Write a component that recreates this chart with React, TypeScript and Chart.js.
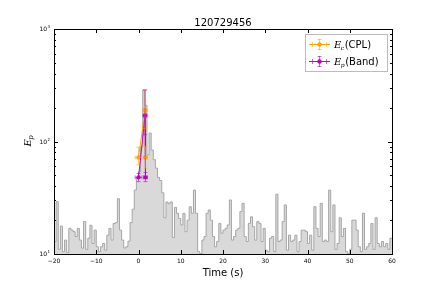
import React, { useEffect, useRef } from "react";
import { Chart, registerables } from "chart.js";

Chart.register(...registerables);

// ---- data ----
const title = "120729456";
const binStart = -20;
const binWidth = 0.5;
const histCounts = [
  12.9, 29.2, 11, 17.7, 10.5, 13.3, 10.3, 16.9, 16.3, 15.8,
  14.3, 16.9, 13.3, 11.3, 19.4, 11, 13.8, 18, 12.4, 16.3,
  11.6, 10.5, 11.6, 12.4, 10.8, 14.7, 16.9, 13.3, 18.7, 19,
  31, 16.3, 13.3, 11.3, 11.6, 13, 19, 25, 37, 47,
  54, 90, 287, 210, 76, 119, 84, 69, 58, 48,
  45, 35, 21, 29, 28, 29, 14, 26, 23, 20.7,
  18.1, 23, 15.8, 20, 26.3, 23, 37, 23, 10.5, 10.1,
  13.3, 14.3, 23, 24.6, 20, 14.3, 11.6, 12.9, 18.7, 15.3,
  16.3, 16.9, 18.1, 30.2, 13.3, 14.3, 16.3, 16.9, 23.8, 28.2,
  14.3, 12.9, 18.7, 21.4, 17.5, 13.3, 19.4, 18.7, 12.9, 16.9,
  10.8, 10.5, 13.8, 14.3, 10.5, 34, 12.9, 13.3, 19.4, 27.3,
  10.8, 14.7, 12.9, 13.3, 14.7, 10.5, 12.9, 16.3, 16.3, 15.8,
  12.4, 14.7, 10.8, 26.3, 16.9, 14.3, 28.2, 12.9, 13.3, 12.9,
  37, 15.8, 27.3, 11, 12.4, 21, 14.3, 16.9, 10.5, 10.1,
  11, 20, 20, 16.3, 11.6, 10.5, 23, 11, 11.6, 12.4,
  18.7, 11, 21, 12.4, 11.6, 12.9, 11.6, 12.4, 11, 13.8,
];

const cplTime = [0.0, 1.55, 1.65];
const cplTimeErr = [0.8, 0.45, 0.45];
const cplEp = [72, 190, 72];
const cplEpErrLo = [10, 60, 14];
const cplEpErrHi = [17, 97, 18];

const bandTime = [0.0, 1.55, 1.65];
const bandTimeErr = [0.8, 0.45, 0.45];
const bandEp = [48, 170, 48];
const bandEpErrLo = [4, 55, 4];
const bandEpErrHi = [4, 117, 5];

const xTicks = [-20, -10, 0, 10, 20, 30, 40, 50, 60];
const yTickExp = [1, 2, 3];
const legendLabels = [
  { main: "E", sub: "c", rest: "(CPL)" },
  { main: "E", sub: "p", rest: "(Band)" },
];

const ORANGE = "#FFA500";
const MAGENTA = "#BF00BF";

export default function App() {
  const ref = useRef<HTMLCanvasElement | null>(null);

  useEffect(() => {
    const canvas = ref.current;
    if (!canvas) return;

    const histData = histCounts.map((v, i) => ({ x: binStart + binWidth * i, y: v }));
    histData.push({ x: binStart + binWidth * histCounts.length, y: histCounts[histCounts.length - 1] });

    const series = [
      { t: cplTime, te: cplTimeErr, v: cplEp, lo: cplEpErrLo, hi: cplEpErrHi, color: ORANGE },
      { t: bandTime, te: bandTimeErr, v: bandEp, lo: bandEpErrLo, hi: bandEpErrHi, color: MAGENTA },
    ];

    const decor = {
      id: "decor",
      afterDatasetsDraw(chart: any) {
        const ctx = chart.ctx as CanvasRenderingContext2D;
        const xs = chart.scales.x;
        const ys = chart.scales.y;
        ctx.save();
        // error bars
        series.forEach((s) => {
          ctx.strokeStyle = s.color;
          ctx.globalAlpha = 0.6;
          ctx.lineWidth = 1;
          for (let i = 0; i < s.t.length; i++) {
            const px = xs.getPixelForValue(s.t[i]);
            const py = ys.getPixelForValue(s.v[i]);
            const x0 = xs.getPixelForValue(s.t[i] - s.te[i]);
            const x1 = xs.getPixelForValue(s.t[i] + s.te[i]);
            const y0 = ys.getPixelForValue(s.v[i] - s.lo[i]);
            const y1 = ys.getPixelForValue(s.v[i] + s.hi[i]);
            ctx.beginPath();
            ctx.moveTo(x0, py); ctx.lineTo(x1, py);
            ctx.moveTo(x0, py - 2); ctx.lineTo(x0, py + 2);
            ctx.moveTo(x1, py - 2); ctx.lineTo(x1, py + 2);
            ctx.moveTo(px, y0); ctx.lineTo(px, y1);
            ctx.moveTo(px - 2, y0); ctx.lineTo(px + 2, y0);
            ctx.moveTo(px - 2, y1); ctx.lineTo(px + 2, y1);
            ctx.stroke();
          }
        });
        ctx.restore();
      },
      afterDraw(chart: any) {
        const ctx = chart.ctx as CanvasRenderingContext2D;
        const xs = chart.scales.x;
        const ys = chart.scales.y;
        const a = chart.chartArea;
        ctx.save();
        ctx.strokeStyle = "#000";
        ctx.fillStyle = "#000";
        ctx.lineWidth = 1;
        // frame
        ctx.strokeRect(Math.round(a.left) + 0.5, Math.round(a.top) + 0.5, Math.round(a.right - a.left), Math.round(a.bottom - a.top));
        // x ticks
        ctx.beginPath();
        xTicks.forEach((t) => {
          const px = Math.round(xs.getPixelForValue(t)) + 0.5;
          ctx.moveTo(px, a.bottom); ctx.lineTo(px, a.bottom - 4);
          ctx.moveTo(px, a.top); ctx.lineTo(px, a.top + 4);
        });
        // y ticks
        yTickExp.forEach((e, k) => {
          const base = Math.pow(10, e);
          const py = Math.round(ys.getPixelForValue(base)) + 0.5;
          ctx.moveTo(a.left, py); ctx.lineTo(a.left + 4, py);
          ctx.moveTo(a.right, py); ctx.lineTo(a.right - 4, py);
          if (k < yTickExp.length - 1) {
            for (let m = 2; m <= 9; m++) {
              const pm = Math.round(ys.getPixelForValue(base * m)) + 0.5;
              ctx.moveTo(a.left, pm); ctx.lineTo(a.left + 2, pm);
              ctx.moveTo(a.right, pm); ctx.lineTo(a.right - 2, pm);
            }
          }
        });
        ctx.stroke();
        // x tick labels
        ctx.font = "6px 'DejaVu Sans'";
        ctx.textAlign = "center";
        ctx.textBaseline = "top";
        xTicks.forEach((t) => {
          const px = xs.getPixelForValue(t);
          const lbl = t < 0 ? "\u2212" + Math.abs(t) : String(t);
          ctx.fillText(lbl, px, a.bottom + 4);
        });
        // y tick labels
        yTickExp.forEach((e) => {
          const py = ys.getPixelForValue(Math.pow(10, e));
          ctx.font = "4px 'DejaVu Sans'";
          ctx.textAlign = "right";
          ctx.textBaseline = "middle";
          const supW = ctx.measureText(String(e)).width;
          ctx.fillText(String(e), a.left - 4, py - 2);
          ctx.font = "6px 'DejaVu Sans'";
          ctx.fillText("10", a.left - 4 - supW - 0.3, py + 0.5);
        });
        // title
        ctx.font = "10px 'DejaVu Sans'";
        ctx.textAlign = "center";
        ctx.textBaseline = "alphabetic";
        ctx.fillText(title, (a.left + a.right) / 2, 26);
        // x label
        ctx.fillText("Time (s)", (a.left + a.right) / 2, 276);
        // y label
        ctx.save();
        ctx.translate(31, (a.top + a.bottom) / 2);
        ctx.rotate(-Math.PI / 2);
        ctx.font = "italic 10px 'DejaVu Serif'";
        ctx.textAlign = "left";
        const ew = ctx.measureText("E").width;
        ctx.fillText("E", -5, 0);
        ctx.font = "italic 7px 'DejaVu Serif'";
        ctx.fillText("p", -5 + ew - 0.5, 2);
        ctx.restore();
        // legend
        const lx = 305, ly = 34, lw = 82, lh = 37;
        ctx.strokeStyle = "#bbb";
        ctx.fillStyle = "#fff";
        ctx.fillRect(lx + 0.5, ly + 0.5, lw, lh);
        ctx.strokeRect(lx + 0.5, ly + 0.5, lw, lh);
        const colors = [ORANGE, MAGENTA];
        legendLabels.forEach((l, i) => {
          const cy = 44 + i * 17;
          const c = colors[i];
          ctx.strokeStyle = c;
          ctx.fillStyle = c;
          ctx.lineWidth = 1;
          ctx.globalAlpha = 1;
          ctx.beginPath();
          ctx.moveTo(309, cy + 0.5); ctx.lineTo(330, cy + 0.5);
          ctx.stroke();
          ctx.globalAlpha = 0.6;
          ctx.beginPath();
          ctx.moveTo(312.5, cy - 2); ctx.lineTo(312.5, cy + 3);
          ctx.moveTo(326.5, cy - 2); ctx.lineTo(326.5, cy + 3);
          ctx.moveTo(319.5, cy - 5); ctx.lineTo(319.5, cy + 6);
          ctx.moveTo(317.5, cy - 5 + 0.5); ctx.lineTo(321.5, cy - 5 + 0.5);
          ctx.moveTo(317.5, cy + 5.5); ctx.lineTo(321.5, cy + 5.5);
          ctx.stroke();
          ctx.globalAlpha = 1;
          ctx.beginPath();
          ctx.arc(319.5, cy + 0.5, 2.2, 0, Math.PI * 2);
          ctx.fill();
          ctx.fillStyle = "#000";
          ctx.textAlign = "left";
          ctx.textBaseline = "alphabetic";
          ctx.font = "italic 10px 'DejaVu Serif'";
          ctx.fillText(l.main, 334, cy + 4);
          const w1 = ctx.measureText(l.main).width;
          ctx.font = "italic 6px 'DejaVu Serif'";
          ctx.fillText(l.sub, 334 + w1 - 0.5, cy + 6);
          const w2 = ctx.measureText(l.sub).width;
          ctx.font = "10px 'DejaVu Sans'";
          ctx.fillText(l.rest, 334 + w1 + w2, cy + 4);
        });
        ctx.restore();
      },
    };

    const chart = new Chart(canvas, {
      type: "line",
      data: {
        datasets: [
          {
            label: "CPL",
            data: cplTime.map((t, i) => ({ x: t, y: cplEp[i] })),
            borderColor: ORANGE,
            backgroundColor: ORANGE,
            borderWidth: 1,
            pointRadius: 2.2,
            pointBorderWidth: 0,
            order: 2,
          },
          {
            label: "Band",
            data: bandTime.map((t, i) => ({ x: t, y: bandEp[i] })),
            borderColor: MAGENTA,
            backgroundColor: MAGENTA,
            borderWidth: 1,
            pointRadius: 2.2,
            pointBorderWidth: 0,
            order: 1,
          },
          {
            label: "counts",
            data: histData,
            stepped: "before",
            borderColor: "#a6a6a6",
            backgroundColor: "#d9d9d9",
            borderWidth: 1,
            pointRadius: 0,
            fill: "start",
            order: 3,
          },
        ],
      },
      options: {
        responsive: false,
        animation: false,
        layout: { padding: { left: 54, right: 44, top: 29, bottom: 37 } },
        plugins: { legend: { display: false }, tooltip: { enabled: false }, title: { display: false } },
        scales: {
          x: { type: "linear", min: -20, max: 60, display: false },
          y: { type: "logarithmic", min: 10, max: 1000, display: false },
        },
      },
      plugins: [decor],
    });
    return () => chart.destroy();
  }, []);

  return (
    <div style={{ position: "absolute", left: 0, top: 0, width: 436, height: 291, background: "#fff" }}>
      <canvas ref={ref} width={436} height={291} style={{ width: 436, height: 291 }} />
    </div>
  );
}
